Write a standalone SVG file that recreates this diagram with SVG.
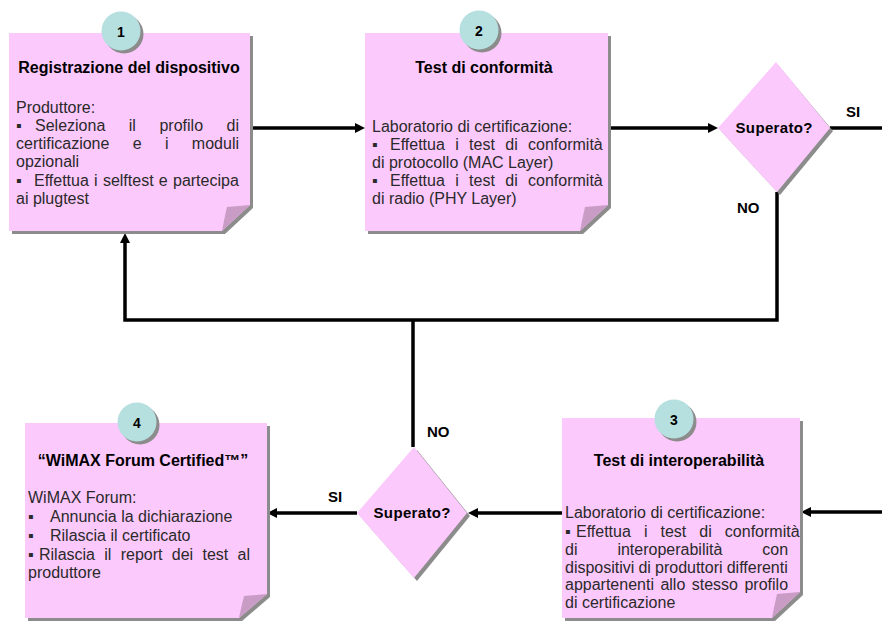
<svg xmlns="http://www.w3.org/2000/svg" width="882" height="624" viewBox="0 0 882 624">
<defs>
<style>
.note{fill:#fcc9fc}
.shadow{fill:#8c8c8c}
.flap{fill:#c99cc6}
.badge{fill:#b6dfe0}
.num{font-family:"Liberation Sans",Arial,sans-serif;font-weight:bold;font-size:14px;fill:#000;text-anchor:middle}
.title{font-family:"Liberation Sans",Arial,sans-serif;font-weight:bold;font-size:16px;fill:#000;text-anchor:middle}
.body{font-family:"Liberation Sans",Arial,sans-serif;font-size:16px;fill:#2a2a2a}
.dtext{font-family:"Liberation Sans",Arial,sans-serif;font-weight:bold;font-size:15px;fill:#000;text-anchor:middle}
.lbl{font-family:"Liberation Sans",Arial,sans-serif;font-weight:bold;font-size:15px;fill:#000}
.conn{fill:none;stroke:#000;stroke-width:3.5}
</style>
<marker id="arr" viewBox="0 0 10 10" refX="4" refY="5" markerWidth="11" markerHeight="10" markerUnits="userSpaceOnUse" orient="auto">
<path d="M0,0 L10,5 L0,10 z" fill="#000"/>
</marker>
</defs>
<rect width="882" height="624" fill="#fff"/>

<g id="connectors">
<path class="conn" d="M251 128 H359" marker-end="url(#arr)"/>
<path class="conn" d="M608 128 H712" marker-end="url(#arr)"/>
<path class="conn" d="M830 128 H882"/>
<path class="conn" d="M777 192 V320 H125 V239" marker-end="url(#arr)"/>
<path class="conn" d="M413 320 V447"/>
<path class="conn" d="M562 513 H474" marker-end="url(#arr)"/>
<path class="conn" d="M357 513 H273" marker-end="url(#arr)"/>
<path class="conn" d="M882 512 H807" marker-end="url(#arr)"/>
</g>

<g id="note1">
<path class="shadow" d="M12 36 H253 V208 L225 234 H12 Z"/>
<path class="note" d="M9 33 H250 V205 L222 231 H9 Z"/>
<path class="flap" d="M250 205 L227 207 Q224 220 222 231 Z"/>
<circle class="shadow" cx="124" cy="34" r="19.5"/>
<circle class="badge" cx="121" cy="31" r="19.5"/>
<text class="num" x="121" y="37">1</text>
<text class="title" x="129" y="73">Registrazione del dispositivo</text>
<text class="body" x="16" y="113">Produttore:</text>
<text class="body" x="16" y="131">▪</text>
<text class="body" x="35" y="131" word-spacing="19.1">Seleziona il profilo di</text>
<text class="body" x="16" y="149" word-spacing="18.9">certificazione e i moduli</text>
<text class="body" x="16" y="167">opzionali</text>
<text class="body" x="16" y="186">▪</text>
<text class="body" x="34" y="186" word-spacing="0.8">Effettua i selftest e partecipa</text>
<text class="body" x="16" y="204">ai plugtest</text>
</g>

<g id="note2">
<path class="shadow" d="M368 36 H611 V208 L583 234 H368 Z"/>
<path class="note" d="M365 33 H608 V205 L580 231 H365 Z"/>
<path class="flap" d="M608 205 L585 207 Q582 220 580 231 Z"/>
<circle class="shadow" cx="482" cy="33" r="19.5"/>
<circle class="badge" cx="479" cy="30" r="19.5"/>
<text class="num" x="479" y="36">2</text>
<text class="title" x="484" y="73">Test di conformità</text>
<text class="body" x="372" y="132">Laboratorio di certificazione:</text>
<text class="body" x="372" y="150">▪</text>
<text class="body" x="390" y="150" word-spacing="5.9">Effettua i test di conformità</text>
<text class="body" x="372" y="168">di protocollo (MAC Layer)</text>
<text class="body" x="372" y="186">▪</text>
<text class="body" x="390" y="186" word-spacing="5.9">Effettua i test di conformità</text>
<text class="body" x="372" y="204">di radio (PHY Layer)</text>
</g>

<g id="decision1">
<polygon class="shadow" points="778,65 833,131 780,195 721,131"/>
<polygon class="note" points="776,62 830,128 777,192 718,128"/>
<text class="dtext" x="774" y="133" textLength="77" lengthAdjust="spacing">Superato?</text>
<text class="lbl" x="846" y="117">SI</text>
<text class="lbl" x="737" y="213">NO</text>
</g>

<g id="note3">
<path class="shadow" d="M565 421 H803 V595 L775 621 H565 Z"/>
<path class="note" d="M562 418 H800 V592 L772 618 H562 Z"/>
<path class="flap" d="M800 592 L777 594 Q774 607 772 618 Z"/>
<circle class="shadow" cx="677" cy="422" r="19.5"/>
<circle class="badge" cx="674" cy="419" r="19.5"/>
<text class="num" x="674" y="425">3</text>
<text class="title" x="679" y="466">Test di interoperabilità</text>
<text class="body" x="565" y="518">Laboratorio di certificazione:</text>
<text class="body" x="565" y="537">▪</text>
<text class="body" x="576" y="537" word-spacing="8.6">Effettua i test di conformità</text>
<text class="body" x="565" y="555" word-spacing="35.5">di interoperabilità con</text>
<text class="body" x="565" y="573" word-spacing="-0.35">dispositivi di produttori differenti</text>
<text class="body" x="565" y="590" word-spacing="2">appartenenti allo stesso profilo</text>
<text class="body" x="565" y="608">di certificazione</text>
</g>

<g id="decision2">
<polygon class="shadow" points="417,450 470,516 417,581 360,516"/>
<polygon class="note" points="414,447 467,513 414,578 357,513"/>
<text class="dtext" x="412" y="518" textLength="77" lengthAdjust="spacing">Superato?</text>
<text class="lbl" x="427" y="437">NO</text>
<text class="lbl" x="328" y="502">SI</text>
</g>

<g id="note4">
<path class="shadow" d="M28 426 H270 V597 L242 621 H28 Z"/>
<path class="note" d="M25 423 H267 V594 L239 618 H25 Z"/>
<path class="flap" d="M267 594 L244 596 Q241 608 239 618 Z"/>
<circle class="shadow" cx="140" cy="425" r="19.5"/>
<circle class="badge" cx="137" cy="422" r="19.5"/>
<text class="num" x="137" y="428">4</text>
<text class="title" x="143" y="466">“WiMAX Forum Certified™”</text>
<text class="body" x="28" y="503">WiMAX Forum:</text>
<text class="body" x="28" y="522">▪</text>
<text class="body" x="50" y="522">Annuncia la dichiarazione</text>
<text class="body" x="28" y="541">▪</text>
<text class="body" x="50" y="541">Rilascia il certificato</text>
<text class="body" x="28" y="560">▪</text>
<text class="body" x="39" y="560" word-spacing="4.85">Rilascia il report dei test al</text>
<text class="body" x="28" y="578">produttore</text>
</g>
</svg>
